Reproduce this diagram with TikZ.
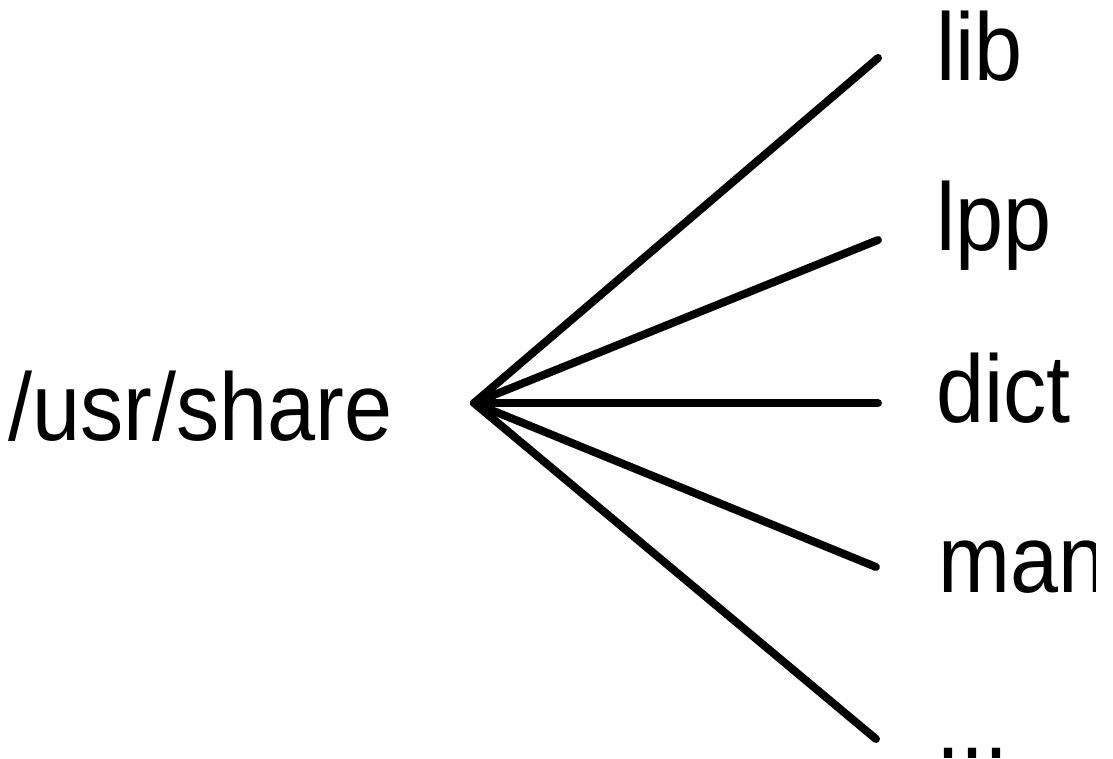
\documentclass[tikz,border=0pt]{standalone}
\usepackage{fontspec}
\newfontfamily\labfont[FakeStretch=0.9]{Liberation Sans}
\begin{document}
\begin{tikzpicture}[x=1pt,y=-1pt,
  lab/.style={anchor=base west,inner sep=0pt,font=\labfont\fontsize{96}{100}\selectfont},
  branch/.style={line width=8pt,line cap=round,black}]
\useasboundingbox (0,0) rectangle (1113,758);
\node[lab] (root) at (8,440) {/usr/share};
\coordinate (hub) at (474,403);
\coordinate (e1) at (878,58);
\coordinate (e2) at (878,240);
\coordinate (e3) at (878,403);
\coordinate (e4) at (876,567);
\coordinate (e5) at (876,739);
\begin{scope}
\clip (0,0) rectangle (1095,758);
\node[lab] (lib) at (936,80) {lib};
\node[lab] (lpp) at (936,250) {lpp};
\node[lab] (dict) at (936,422) {dict};
\node[lab] (man) at (938,592) {man};
\node[lab] (more) at (936,758) {...};
\end{scope}
\foreach \e in {e1,e2,e3,e4,e5} \draw[branch] (hub) -- (\e);
\end{tikzpicture}
\end{document}
